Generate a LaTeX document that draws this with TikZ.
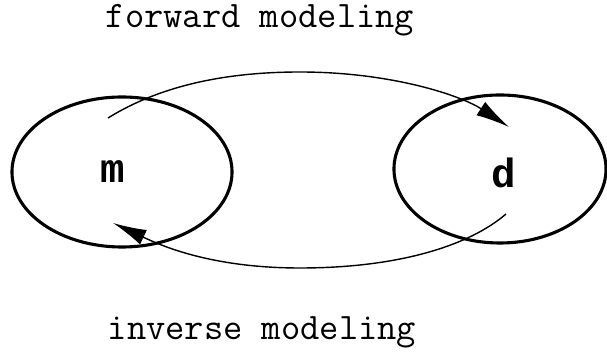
\documentclass[tikz,border=0pt]{standalone}
\usepackage{fontspec}
\newfontfamily\symbfont{Liberation Mono}
\usetikzlibrary{arrows.meta,calc,shapes.geometric}

\begin{document}
\begin{tikzpicture}[x=0.025cm, y=-0.025cm,
    every node/.style={font=\ttfamily\fontsize{26.6}{30}\selectfont},
    space/.style={draw, ellipse, line width=2.2pt, inner sep=0pt},
    symb/.style={anchor=base, font=\symbfont\bfseries\fontsize{29}{32}\selectfont},
    mapping/.style={line width=1pt, -{Latex[length=0.84cm,width=0.4cm]}}]
  \useasboundingbox (0,0) rectangle (607,359);

  % model space and data space
  \node[space, minimum width=5.5cm, minimum height=3.75cm] (m) at (122,172) {};
  \node[space, minimum width=5.3cm, minimum height=3.7cm] (d) at (500,169) {};
  \node[symb] (mtext) at ($(m.center)+(-9,11)$) {m};
  \node[symb] (dtext) at ($(d.center)+(4,19)$) {d};

  % loose ends of the two mappings
  \coordinate (fwdfrom) at ($(m.center)+(-14,-54)$);
  \coordinate (fwdto) at ($(d.center)+(9,-42)$);
  \coordinate (invfrom) at ($(d.center)+(6,45)$);
  \coordinate (invto) at ($(m.center)+(-9,51)$);

  \draw[mapping] (fwdfrom) .. controls (150,92) and (210,72) .. (300,72)
    .. controls (390,72) and (460,95) .. (fwdto);
  \draw[mapping] (invfrom) .. controls (470,245) and (400,268) .. (300,268)
    .. controls (210,268) and (160,245) .. (invto);

  % captions
  \node[anchor=base] (fwdtext) at (260,28) {forward modeling};
  \node[anchor=base] (invtext) at (262,340) {inverse modeling};
\end{tikzpicture}
\end{document}
